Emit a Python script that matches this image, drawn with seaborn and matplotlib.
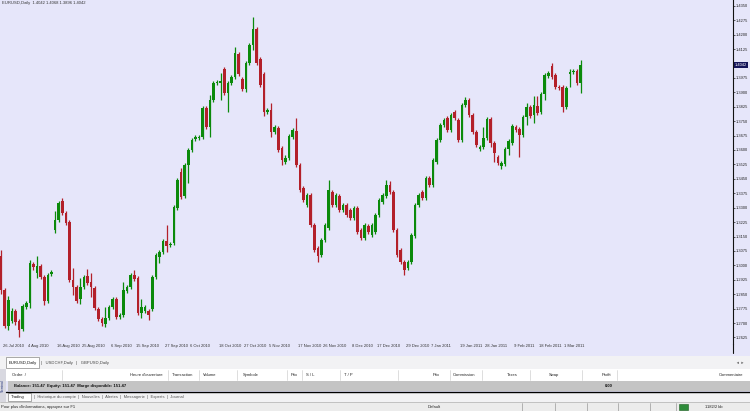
import numpy as np
import pandas as pd
import matplotlib
matplotlib.use("Agg")
import matplotlib.pyplot as plt
import matplotlib.transforms as mtrans
from matplotlib.lines import Line2D
from matplotlib.patches import Rectangle
import seaborn as sns

# EURUSD daily candles
open_ = [1.3049, 1.2872, 1.2685, 1.2711, 1.2763, 1.2711, 1.2669, 1.2784, 1.2804, 1.3007,
         1.2960, 1.2997, 1.2940, 1.2815, 1.2955, 1.3184, 1.3236, 1.3335, 1.3272, 1.3226,
         1.2924, 1.2888, 1.2825, 1.2888, 1.2945, 1.2914, 1.2882, 1.2773, 1.2721, 1.2695,
         1.2726, 1.2784, 1.2825, 1.2732, 1.2742, 1.2867, 1.2888, 1.2950, 1.2934, 1.2752,
         1.2763, 1.2763, 1.2773, 1.2940, 1.3044, 1.3070, 1.3127, 1.3106, 1.3116, 1.3298,
         1.3486, 1.3361, 1.3522, 1.3600, 1.3657, 1.3662, 1.3668, 1.3818, 1.3720, 1.3860,
         1.3948, 1.3948, 1.4021, 1.3896, 1.3948, 1.3980, 1.4099, 1.3969, 1.3917, 1.4052,
         1.4146, 1.4229, 1.4073, 1.3995, 1.3798, 1.3808, 1.3694, 1.3714, 1.3610, 1.3538,
         1.3558, 1.3668, 1.3699, 1.3522, 1.3402, 1.3314, 1.3366, 1.3210, 1.3090, 1.3054,
         1.3132, 1.3194, 1.3382, 1.3314, 1.3361, 1.3288, 1.3314, 1.3288, 1.3246, 1.3298,
         1.3184, 1.3142, 1.3205, 1.3158, 1.3174, 1.3262, 1.3330, 1.3361, 1.3418, 1.3382,
         1.3184, 1.3080, 1.3018, 1.2986, 1.3018, 1.3153, 1.3314, 1.3382, 1.3350, 1.3454,
         1.3418, 1.3538, 1.3652, 1.3730, 1.3766, 1.3704, 1.3798, 1.3756, 1.3652, 1.3834,
         1.3860, 1.3782, 1.3694, 1.3605, 1.3616, 1.3662, 1.3761, 1.3636, 1.3564, 1.3517,
         1.3527, 1.3605, 1.3636, 1.3720, 1.3709, 1.3678, 1.3772, 1.3824, 1.3782, 1.3829,
         1.3798, 1.3891, 1.3985, 1.4037, 1.3990, 1.3928, 1.3928, 1.3824, 1.3995, 1.4006,
         1.4011, 1.3948]
high_ = [1.3080, 1.2882, 1.2841, 1.2778, 1.2773, 1.2721, 1.2799, 1.2815, 1.3028, 1.3018,
         1.3049, 1.3007, 1.2950, 1.2960, 1.2976, 1.3283, 1.3335, 1.3350, 1.3283, 1.3236,
         1.2986, 1.2898, 1.2934, 1.2950, 1.2981, 1.2960, 1.2893, 1.2784, 1.2732, 1.2784,
         1.2794, 1.2836, 1.2836, 1.2752, 1.2914, 1.2898, 1.2960, 1.2976, 1.2945, 1.2825,
         1.2794, 1.2773, 1.2950, 1.3064, 1.3080, 1.3137, 1.3210, 1.3122, 1.3314, 1.3454,
         1.3506, 1.3532, 1.3610, 1.3662, 1.3678, 1.3678, 1.3829, 1.3829, 1.3886, 1.3959,
         1.3964, 1.4000, 1.4032, 1.3959, 1.3990, 1.4136, 1.4110, 1.3980, 1.4063, 1.4156,
         1.4292, 1.4240, 1.4084, 1.4006, 1.3818, 1.3844, 1.3730, 1.3725, 1.3621, 1.3574,
         1.3683, 1.3714, 1.3766, 1.3532, 1.3413, 1.3376, 1.3376, 1.3220, 1.3101, 1.3142,
         1.3220, 1.3444, 1.3392, 1.3376, 1.3371, 1.3324, 1.3324, 1.3298, 1.3309, 1.3309,
         1.3194, 1.3220, 1.3215, 1.3220, 1.3272, 1.3350, 1.3376, 1.3444, 1.3439, 1.3392,
         1.3194, 1.3090, 1.3028, 1.3028, 1.3168, 1.3324, 1.3376, 1.3392, 1.3465, 1.3465,
         1.3558, 1.3662, 1.3740, 1.3766, 1.3777, 1.3792, 1.3808, 1.3766, 1.3844, 1.3876,
         1.3870, 1.3792, 1.3704, 1.3626, 1.3720, 1.3772, 1.3772, 1.3647, 1.3574, 1.3543,
         1.3616, 1.3657, 1.3735, 1.3730, 1.3720, 1.3782, 1.3844, 1.3834, 1.3881, 1.3881,
         1.3902, 1.4000, 1.4011, 1.4052, 1.4000, 1.3938, 1.3938, 1.3933, 1.4021, 1.4021,
         1.4021, 1.4068]
low_ = [1.2851, 1.2674, 1.2664, 1.2700, 1.2690, 1.2628, 1.2659, 1.2773, 1.2778, 1.2976,
        1.2934, 1.2929, 1.2794, 1.2804, 1.2945, 1.3168, 1.3226, 1.3262, 1.3210, 1.2914,
        1.2846, 1.2804, 1.2799, 1.2877, 1.2898, 1.2836, 1.2768, 1.2711, 1.2685, 1.2680,
        1.2716, 1.2773, 1.2721, 1.2721, 1.2732, 1.2856, 1.2877, 1.2919, 1.2742, 1.2726,
        1.2752, 1.2716, 1.2763, 1.2929, 1.3012, 1.3059, 1.3070, 1.3096, 1.3106, 1.3288,
        1.3345, 1.3350, 1.3428, 1.3590, 1.3647, 1.3652, 1.3657, 1.3709, 1.3668, 1.3850,
        1.3938, 1.3860, 1.3886, 1.3798, 1.3938, 1.3969, 1.3985, 1.3907, 1.3902, 1.4042,
        1.4120, 1.4042, 1.3928, 1.3777, 1.3787, 1.3668, 1.3683, 1.3590, 1.3522, 1.3527,
        1.3548, 1.3657, 1.3512, 1.3382, 1.3330, 1.3304, 1.3200, 1.3070, 1.3018, 1.3044,
        1.3122, 1.3184, 1.3304, 1.3304, 1.3278, 1.3278, 1.3252, 1.3236, 1.3236, 1.3163,
        1.3132, 1.3132, 1.3163, 1.3148, 1.3163, 1.3252, 1.3319, 1.3350, 1.3371, 1.3174,
        1.3044, 1.3007, 1.2950, 1.2976, 1.3007, 1.3142, 1.3304, 1.3340, 1.3340, 1.3408,
        1.3408, 1.3527, 1.3642, 1.3720, 1.3694, 1.3694, 1.3756, 1.3642, 1.3642, 1.3824,
        1.3772, 1.3683, 1.3616, 1.3595, 1.3605, 1.3652, 1.3616, 1.3538, 1.3522, 1.3501,
        1.3517, 1.3574, 1.3626, 1.3694, 1.3564, 1.3668, 1.3730, 1.3766, 1.3740, 1.3782,
        1.3787, 1.3860, 1.3974, 1.3969, 1.3917, 1.3912, 1.3798, 1.3813, 1.3928, 1.3995,
        1.3938, 1.3896]
close_ = [1.2872, 1.2685, 1.2820, 1.2763, 1.2706, 1.2664, 1.2789, 1.2804, 1.3012, 1.2992,
          1.2997, 1.2940, 1.2815, 1.2950, 1.2966, 1.3236, 1.3324, 1.3272, 1.3220, 1.2924,
          1.2888, 1.2815, 1.2888, 1.2940, 1.2908, 1.2888, 1.2778, 1.2721, 1.2700, 1.2726,
          1.2784, 1.2825, 1.2732, 1.2742, 1.2872, 1.2888, 1.2950, 1.2929, 1.2752, 1.2784,
          1.2784, 1.2742, 1.2940, 1.3054, 1.3070, 1.3127, 1.3101, 1.3111, 1.3304, 1.3444,
          1.3356, 1.3522, 1.3600, 1.3652, 1.3668, 1.3668, 1.3818, 1.3720, 1.3860, 1.3948,
          1.3954, 1.3959, 1.3896, 1.3948, 1.3980, 1.4104, 1.3995, 1.3917, 1.4052, 1.4146,
          1.4229, 1.4052, 1.3938, 1.3798, 1.3808, 1.3694, 1.3720, 1.3600, 1.3548, 1.3558,
          1.3673, 1.3704, 1.3522, 1.3392, 1.3340, 1.3366, 1.3210, 1.3080, 1.3049, 1.3132,
          1.3210, 1.3392, 1.3314, 1.3366, 1.3288, 1.3314, 1.3262, 1.3246, 1.3298, 1.3174,
          1.3142, 1.3210, 1.3174, 1.3210, 1.3262, 1.3340, 1.3366, 1.3418, 1.3382, 1.3184,
          1.3054, 1.3018, 1.2976, 1.3018, 1.3158, 1.3314, 1.3366, 1.3350, 1.3454, 1.3418,
          1.3548, 1.3652, 1.3730, 1.3756, 1.3704, 1.3782, 1.3766, 1.3652, 1.3834, 1.3860,
          1.3782, 1.3694, 1.3626, 1.3616, 1.3662, 1.3761, 1.3636, 1.3584, 1.3532, 1.3532,
          1.3605, 1.3647, 1.3725, 1.3704, 1.3678, 1.3772, 1.3824, 1.3777, 1.3834, 1.3792,
          1.3891, 1.3990, 1.4000, 1.3980, 1.3928, 1.3922, 1.3824, 1.3922, 1.4006, 1.4011,
          1.3948, 1.4042]

tick_bars = [0, 7, 15, 22, 30, 37, 45, 52, 60, 67, 74, 82, 89, 97, 104, 112, 119, 127,
             134, 142, 149, 156]
tick_dates = ["26 Jul 2010", "4 Aug 2010", "16 Aug 2010", "25 Aug 2010", "6 Sep 2010",
              "15 Sep 2010", "27 Sep 2010", "6 Oct 2010", "18 Oct 2010", "27 Oct 2010",
              "5 Nov 2010", "17 Nov 2010", "26 Nov 2010", "8 Dec 2010", "17 Dec 2010",
              "29 Dec 2010", "7 Jan 2011", "19 Jan 2011", "28 Jan 2011", "9 Feb 2011",
              "18 Feb 2011", "1 Mar 2011"]
price_ticks = [1.4350, 1.4275, 1.4200, 1.4125, 1.4050, 1.3975, 1.3900, 1.3825, 1.3750,
               1.3675, 1.3600, 1.3525, 1.3450, 1.3375, 1.3300, 1.3225, 1.3150, 1.3075,
               1.3000, 1.2925, 1.2850, 1.2775, 1.2700, 1.2625]

BG = "#E6E6FA"
UP = "#0B8A0B"
DOWN = "#B3202A"
FS = 3.0

sns.set_style("white")
plt.rcParams["font.family"] = ["Liberation Sans", "DejaVu Sans"]

df = pd.DataFrame({"open": open_, "high": high_, "low": low_, "close": close_})
df["bar"] = np.arange(len(df))
df["colour"] = np.where(df["close"] >= df["open"], UP, DOWN)

fig = plt.figure(figsize=(7.5, 4.11), dpi=100, facecolor=BG)
ax = fig.add_axes([0, 67 / 411, 733 / 750, 344 / 411], facecolor=BG)

# wicks + bodies
ax.vlines(df["bar"], df["low"], df["high"], colors=df["colour"], lw=0.9)
body = (df["close"] - df["open"]).abs().clip(lower=0.0004)
ax.bar(df["bar"], body, bottom=df[["open", "close"]].min(axis=1), width=0.72,
       color=df["colour"], linewidth=0)

ax.set_xlim(-0.28, 203.3)
ax.set_ylim(1.25911, 1.4380)
for s in ["top", "left", "bottom"]:
    ax.spines[s].set_visible(False)
ax.spines["right"].set_color("#111111")
ax.spines["right"].set_linewidth(0.8)

last = close_[-1]
# the current-price box hides the regular label next to it
ylabels = ["" if abs(p - last) < 0.002 else f"{p:.4f}" for p in price_ticks]
ax.yaxis.tick_right()
ax.set_yticks(price_ticks, ylabels)
ax.tick_params(axis="y", length=1.5, pad=0.6, labelsize=2.9, colors="#222222", width=0.5)
ax.set_xticks(tick_bars, tick_dates, ha="left")
ax.tick_params(axis="x", direction="out", length=6, pad=-6, labelsize=FS,
               colors="#333333", width=0.5)
# date labels sit just right of their tick, MT4 style
offset = mtrans.ScaledTranslation(1.5 / 100, 0, fig.dpi_scale_trans)
for lab in ax.get_xticklabels():
    lab.set_verticalalignment("top")
    lab.set_transform(lab.get_transform() + offset)

# current price box
ax.text(1.002, last, f"{last:.4f}", transform=ax.get_yaxis_transform(), ha="left",
        va="center", fontsize=2.9, color="white", clip_on=False, zorder=5,
        bbox=dict(boxstyle="square,pad=0.2", fc="#14145A", ec="none"))
ax.text(0.003, 0.996, f"EURUSD,Daily  {last:.4f} {high_[-1]:.4f} {low_[-1]:.4f} {last:.4f}",
        transform=ax.transAxes, va="top", ha="left", fontsize=FS, color="#333333")
fig.add_artist(Line2D([733 / 750] * 2, [(411 - 353) / 411, 67 / 411], color="#111111", lw=0.8))

# terminal panel below the chart
tp = fig.add_axes([0, 0, 1, 56 / 411])
tp.set_xlim(0, 750)
tp.set_ylim(411, 355)
tp.axis("off")
tp.add_patch(Rectangle((0, 356), 750, 13, fc="#F2F2F4", ec="none"))
tp.add_patch(Rectangle((6, 357), 33, 11, fc="white", ec="#888888", lw=0.5))
tp.text(9, 362.5, "EURUSD,Daily", fontsize=FS, va="center", color="#111111")
tp.text(41, 362.5, "|   USDCHF,Daily   |   GBPUSD,Daily", fontsize=FS, va="center",
        color="#444444")
tp.text(736, 362.5, "◄ ►", fontsize=2.6, va="center", color="#666666")

tp.add_patch(Rectangle((0, 369), 750, 12, fc="white", ec="none"))
tp.add_patch(Rectangle((0, 369), 6, 33, fc="#D8D8E0", ec="none"))
tp.text(3, 385.5, "Terminal", fontsize=2.4, rotation=90, ha="center", va="center",
        color="#20307A")
headers = [("Ordre  /", 12), ("Heure d'ouverture", 130), ("Transaction", 172),
           ("Volume", 203), ("Symbole", 243), ("Prix", 291), ("S / L", 306),
           ("T / P", 344), ("Prix", 433), ("Commission", 453), ("Taxes", 507),
           ("Swap", 549), ("Profit", 602), ("Commentaire", 719)]
for txt, x in headers:
    tp.text(x, 375, txt, fontsize=FS, va="center", color="#222222")
for x in [62, 168, 199, 237, 287, 302, 340, 398, 450, 482, 530, 582, 617]:
    tp.plot([x, x], [370, 380], color="#D0D0D0", lw=0.5)

tp.add_patch(Rectangle((8, 381), 742, 10, fc="#C4C4C4", ec="none"))
tp.text(14, 386, "Balance: 151.47  Equity: 151.47  Marge disponible: 151.47",
        fontsize=FS, va="center", weight="bold", color="#111111")
tp.text(605, 386, "0.00", fontsize=FS, va="center", weight="bold", color="#111111")
tp.plot([6, 750], [391.8, 391.8], color="black", lw=1.0)

tp.add_patch(Rectangle((6, 392.5), 744, 9, fc="#F2F2F4", ec="none"))
tp.add_patch(Rectangle((8, 392.5), 23, 8.5, fc="white", ec="#888888", lw=0.5))
tp.text(11, 397, "Trading", fontsize=FS, va="center", color="#111111")
tp.text(34, 397, "|  Historique du compte  |  Nouvelles  |  Alertes  |  Messagerie  "
        "|  Experts  |  Journal", fontsize=FS, va="center", color="#555555")

tp.add_patch(Rectangle((0, 402), 750, 9, fc="#ECECEC", ec="none"))
tp.plot([0, 750], [402, 402], color="#B0B0B0", lw=0.5)
tp.text(1, 406.5, "Pour plus d'informations, appuyez sur F1", fontsize=FS, va="center",
        color="#222222")
tp.text(428, 406.5, "Default", fontsize=FS, va="center", color="#222222")
for x in [522, 555, 587, 618, 650, 676]:
    tp.plot([x, x], [403, 410.5], color="#9A9A9A", lw=0.5)
tp.add_patch(Rectangle((679, 403.5), 9, 6, fc="#2E8B3A", ec="#1B5E20", lw=0.4))
tp.text(705, 406.5, "1182/2 kb", fontsize=FS, va="center", color="#222222")

fig.savefig("out.png", dpi=100, facecolor=BG)
